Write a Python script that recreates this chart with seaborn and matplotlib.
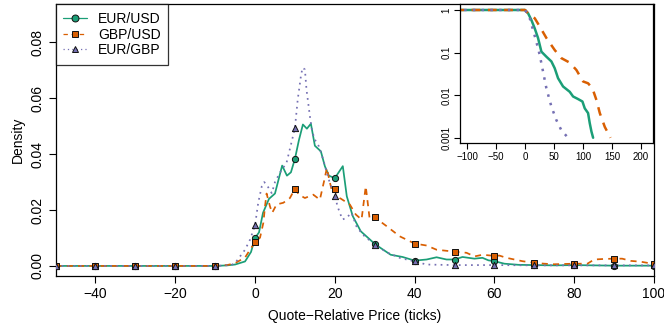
import numpy as np
import pandas as pd
import matplotlib
matplotlib.use("Agg")
import matplotlib.pyplot as plt
import seaborn as sns

sns.set_theme(style="ticks")
plt.rcParams["font.family"] = ["Liberation Sans", "DejaVu Sans"]
plt.rcParams.update({"text.color": "black", "axes.labelcolor": "black",
                     "xtick.color": "black", "ytick.color": "black",
                     "axes.edgecolor": "black"})

# Dark2 colours used in the original
colors = ["#1b9e77", "#d95f02", "#7570b3"]
pairs = ["EUR/USD", "GBP/USD", "EUR/GBP"]

# density of quote-relative price
eurusd_x = [-50, -40, -30, -20, -10, -7, -5, -2.5, -1, 0, 1, 2, 3.5, 5, 6.8, 8, 9, 10, 11, 12,
            13, 14, 15, 16.5, 17.5, 18.5, 20, 22, 23, 24.5, 26.5, 30, 31.5, 34, 37, 40, 43,
            45.5, 48, 50, 52, 55, 57, 58.5, 60, 62.5, 66, 70, 75, 80, 85, 90, 95, 100]
eurusd_y = [0, 0, 0, 0, 0, 0.0002, 0.0005, 0.0016, 0.005, 0.0100, 0.012, 0.019, 0.024, 0.0259,
            0.0359, 0.0323, 0.0335, 0.0383, 0.045, 0.0506, 0.0491, 0.0509, 0.043, 0.041, 0.0357,
            0.0323, 0.0314, 0.0357, 0.0249, 0.0178, 0.0124, 0.0079, 0.0064, 0.004, 0.0032,
            0.0019, 0.0023, 0.0031, 0.0023, 0.0023, 0.0032, 0.0026, 0.0029, 0.002, 0.0017,
            0.0008, 0.0004, 0.0003, 0.0002, 0.0003, 0.0002, 0.0001, 0.0001, 0.0001]

gbpusd_x = [-50, -40, -30, -20, -10, -7, -5, -2.5, -1.25, 0, 1.25, 2.1, 2.5, 2.9, 3.75, 4.3,
            5.4, 7.1, 8.75, 10, 11, 12.5, 14.6, 16.25, 17.3, 18, 18.6, 19.3, 20, 21.25, 23.75,
            25.25, 26.7, 27.75, 28.75, 30, 33, 36.25, 40, 43, 45.5, 50, 53, 55, 57, 60, 61.25,
            63, 65, 67, 70, 72.5, 75, 80, 83.3, 85, 87.5, 90, 92, 94.2, 96.7, 100]
gbpusd_y = [0, 0, 0, 0, 0, 0.0003, 0.001, 0.003, 0.0058, 0.0085, 0.0101, 0.0155, 0.0213,
            0.0259, 0.0213, 0.019, 0.022, 0.0226, 0.0243, 0.0276, 0.0255, 0.0243, 0.0255,
            0.0237, 0.0303, 0.035, 0.0309, 0.0267, 0.0276, 0.0243, 0.022, 0.0184, 0.0166,
            0.0285, 0.0166, 0.0174, 0.0142, 0.0106, 0.008, 0.0073, 0.0058, 0.0051, 0.0047,
            0.0034, 0.004, 0.0036, 0.0037, 0.0029, 0.0023, 0.0017, 0.0011, 0.0008, 0.0006,
            0.0008, 0.0008, 0.0023, 0.0025, 0.0026, 0.0026, 0.0018, 0.0015, 0.0007]

eurgbp_x = [-50, -40, -30, -20, -10, -6, -5, -2.5, -1.25, 0, 0.8, 1.7, 2.3, 2.9, 4.2, 5, 6.25,
            7.9, 8.9, 10, 10.7, 11.5, 11.9, 12.5, 12.9, 13.75, 14.3, 15, 16, 17.1, 18, 18.75,
            20, 20.8, 21.9, 22.9, 24.2, 25.4, 27, 30, 33, 36.25, 40, 43, 50, 60, 70, 80, 90, 100]
eurgbp_y = [0, 0, 0, 0, 0, 0.0003, 0.001, 0.0058, 0.0094, 0.0145, 0.0226, 0.0285, 0.030,
            0.0291, 0.026, 0.030, 0.0334, 0.0369, 0.0428, 0.0493, 0.0595, 0.0679, 0.0709,
            0.0703, 0.0631, 0.0536, 0.0482, 0.0452, 0.0428, 0.038, 0.0333, 0.0297, 0.0249,
            0.0208, 0.0166, 0.0172, 0.019, 0.0142, 0.0112, 0.0076, 0.0049, 0.0029, 0.0016,
            0.0005, 0.0003, 0.0003, 0.0002, 0.0002, 0.0002, 0.0002]

# survival function (inset, log scale)
surv_eurusd_x = [-120, 0, 5.2, 11, 16.7, 22.4, 28.2, 36.8, 45.4, 51.1, 56.9, 65.5, 77, 82.8,
                 91.4, 98.9, 102.9, 108.6, 111.5, 114.4, 117.3]
surv_eurusd_y = [1, 1, 0.84, 0.58, 0.37, 0.22, 0.105, 0.08, 0.062, 0.043, 0.025, 0.016, 0.012,
                 0.0093, 0.0081, 0.0071, 0.0049, 0.0038, 0.0022, 0.0014, 0.001]
surv_gbpusd_x = [-120, 0, 8.1, 16.7, 25.3, 36.8, 51.1, 62.6, 77, 88.5, 100, 108.6, 116.1, 123,
                 128.8, 137.4, 147.2]
surv_gbpusd_y = [1, 1, 0.76, 0.64, 0.41, 0.22, 0.115, 0.074, 0.058, 0.039, 0.021, 0.019,
                 0.0145, 0.0077, 0.0038, 0.0018, 0.001]
surv_eurgbp_x = [-120, 0, 8.1, 13.8, 19.5, 25.3, 31, 36.8, 45.4, 54, 62.6, 74.1]
surv_eurgbp_y = [1, 1, 0.64, 0.34, 0.18, 0.088, 0.036, 0.0145, 0.0054, 0.0026, 0.0015, 0.001]

dens = [(eurusd_x, eurusd_y), (gbpusd_x, gbpusd_y), (eurgbp_x, eurgbp_y)]
surv = [(surv_eurusd_x, surv_eurusd_y), (surv_gbpusd_x, surv_gbpusd_y),
        (surv_eurgbp_x, surv_eurgbp_y)]
markers = ["o", "s", "^"]
styles = ["-", (0, (3.5, 3)), (0, (1, 2.5))]

fig = plt.figure(figsize=(6.64, 3.32), dpi=100)
ax = fig.add_axes([0.0836, 0.1687, 0.9014, 0.8183])

for i, (xs, ys) in enumerate(dens):
    df = pd.DataFrame({"x": xs, "y": ys})
    sns.lineplot(data=df, x="x", y="y", ax=ax, color=colors[i], linestyle=styles[i],
                 linewidth=1.25, sort=False, estimator=None)
    pts = df[np.isclose(df["x"] % 10, 0)]
    ax.scatter(pts["x"], pts["y"], marker=markers[i], s=20, color=colors[i],
               edgecolor="#111111", linewidth=0.7, zorder=3)

ax.set_xlim(-50, 100)
ax.set_ylim(-0.0036, 0.0936)
ax.set_xticks([-40, -20, 0, 20, 40, 60, 80, 100])
ax.set_yticks([0, 0.02, 0.04, 0.06, 0.08])
ax.set_yticklabels(["0.00", "0.02", "0.04", "0.06", "0.08"], rotation=90, va="center")
ax.tick_params(labelsize=10, length=5, width=0.8, pad=3)
ax.set_xlabel("Quote\u2212Relative Price (ticks)", fontsize=10, labelpad=6)
ax.set_ylabel("Density", fontsize=10, labelpad=4)
for sp in ax.spines.values():
    sp.set_linewidth(0.9)

handles = [plt.Line2D([], [], color=colors[i], linestyle=styles[i], linewidth=0.9,
                      marker=markers[i], markersize=5, markeredgecolor="#111111",
                      markeredgewidth=0.7) for i in range(3)]
leg = ax.legend(handles, pairs, loc="upper left", fontsize=10, frameon=True, fancybox=False,
                borderaxespad=0, handlelength=1.7, handletextpad=0.8, labelspacing=0.12,
                borderpad=0.55)
leg.get_frame().set_edgecolor("black")
leg.get_frame().set_linewidth(0.9)

# inset: survival function on log scale
axi = fig.add_axes([0.6928, 0.5684, 0.2911, 0.4187])
for i, (xs, ys) in enumerate(surv):
    df = pd.DataFrame({"x": xs, "y": ys})
    sns.lineplot(data=df, x="x", y="y", ax=axi, color=colors[i], linestyle=styles[i],
                 linewidth=1.8, sort=False, estimator=None)
axi.set_yscale("log")
axi.set_xlim(-112, 221)
axi.set_ylim(10 ** -3.13, 10 ** 0.134)
axi.set_xticks([-100, -50, 0, 50, 100, 150, 200])
axi.set_yticks([1, 0.1, 0.01, 0.001])
axi.set_yticklabels(["1", "0.1", "0.01", "0.001"], rotation=90, va="center")
axi.minorticks_off()
axi.set_xlabel("")
axi.set_ylabel("")
axi.tick_params(labelsize=7, length=4, width=0.8, pad=2)
for sp in axi.spines.values():
    sp.set_linewidth(0.9)

fig.savefig("out.png", dpi=100)
